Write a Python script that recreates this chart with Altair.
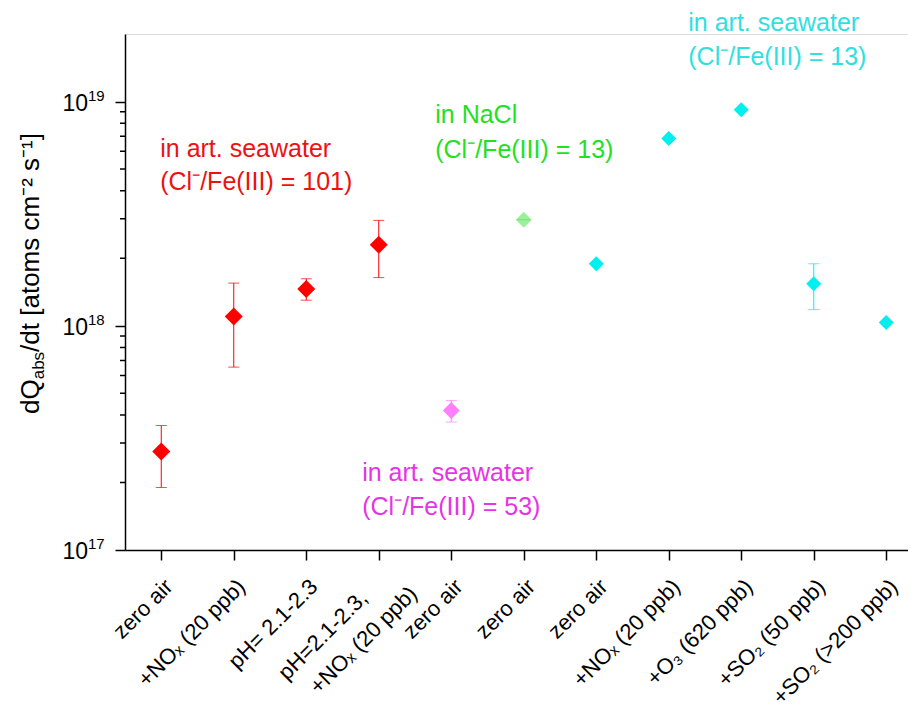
import altair as alt
import pandas as pd

FONT = "Liberation Sans"

# ---------------- data ----------------
x_pos = [1, 2, 3, 4, 5, 6, 7, 8, 9, 10, 11]
x_labels = ["zero air", "+NOₓ (20 ppb)", "pH= 2.1-2.3", "pH=2.1-2.3,|+NOₓ (20 ppb)",
            "zero air", "zero air", "zero air", "+NOₓ (20 ppb)", "+O₃ (620 ppb)",
            "+SO₂ (50 ppb)", "+SO₂ (>200 ppb)"]
values = [2.75e17, 1.10e18, 1.46e18, 2.30e18, 4.19e17, 2.97e18, 1.89e18, 6.84e18,
          9.2e18, 1.54e18, 1.035e18]
err_hi = [3.59e17, 1.55e18, 1.62e18, 2.95e18, 4.64e17, 3.15e18, None, None, None, 1.89e18, None]
err_lo = [1.90e17, 6.54e17, 1.30e18, 1.64e18, 3.72e17, 2.80e18, None, None, None, 1.18e18, None]
groups = ["red", "red", "red", "red", "pink", "green", "cyan", "cyan", "cyan", "cyan", "cyan"]

group_names = ["red", "pink", "green", "cyan"]
point_colors = ["#ff0000", "#ff80ff", "#9cf09c", "#00f0f0"]
bar_colors = ["#ff2020", "#ff70ff", "#5ee05e", "#10e0e0"]
point_sizes = [324, 225, 225, 324]

y_major = [1e17, 1e18, 1e19]
y_major_base = ["10", "10", "10"]
y_major_exp = ["17", "18", "19"]
y_minor = [m * 10 ** e for e in (17, 18) for m in range(2, 10)]

ann_text = ["in art. seawater", "(Cl⁻/Fe(III) = 101)",
            "in art. seawater", "(Cl⁻/Fe(III) = 53)",
            "in NaCl", "(Cl⁻/Fe(III) = 13)",
            "in art. seawater", "(Cl⁻/Fe(III) = 13)"]
ann_x = [0.986, 0.986, 3.772, 3.772, 4.779, 4.779, 8.269, 8.269]
ann_y = [5.68e18, 4.05e18, 2.03e17, 1.43e17, 8.05e18, 5.62e18, 2.053e19, 1.462e19]
ann_color = ["#ee1111", "#ee1111", "#e633e6", "#e633e6", "#22e022", "#22e022", "#30e0e0", "#30e0e0"]

W, H = 783, 516
x_domain = [0.5, 11.3]
y_domain = [1e17, 2e19]

# ---------------- frames ----------------
pts = pd.DataFrame({"x": x_pos, "v": values, "lo": err_lo, "hi": err_hi, "g": groups})
err = pts.dropna(subset=["lo", "hi"])
err_caps = err[err.g != "green"]
green = pts[pts.g == "green"]

xs = alt.Scale(domain=x_domain, nice=False, zero=False)
ys = alt.Scale(type="log", domain=y_domain, nice=False)
col_pt = alt.Color("g:N", scale=alt.Scale(domain=group_names, range=point_colors), legend=None)
col_bar = alt.Color("g:N", scale=alt.Scale(domain=group_names, range=bar_colors), legend=None)
size_pt = alt.Size("g:N", scale=alt.Scale(domain=group_names, range=point_sizes), legend=None)

x_axis = alt.Axis(values=x_pos, labels=False, tickSize=10, tickWidth=1.5,
                  tickColor="black", domainColor="black", domainWidth=1.5, grid=False, title=None)
y_axis = alt.Axis(values=y_major, labels=False, tickSize=10, tickWidth=1.5, tickColor="black",
                  domainColor="black", domainWidth=1.5, grid=False, title=None)

points = alt.Chart(pts).mark_point(shape="diamond", filled=True, opacity=1).encode(
    x=alt.X("x:Q", scale=xs, axis=x_axis), y=alt.Y("v:Q", scale=ys, axis=y_axis),
    color=col_pt, size=size_pt)
bars = alt.Chart(err).mark_rule(strokeWidth=1).encode(
    x=alt.X("x:Q", scale=xs), y=alt.Y("lo:Q", scale=ys), y2="hi:Q", color=col_bar)
cap_hi = alt.Chart(err_caps).mark_tick(orient="horizontal", size=11, thickness=1).encode(
    x=alt.X("x:Q", scale=xs), y=alt.Y("hi:Q", scale=ys), color=col_bar)
cap_lo = alt.Chart(err_caps).mark_tick(orient="horizontal", size=11, thickness=1).encode(
    x=alt.X("x:Q", scale=xs), y=alt.Y("lo:Q", scale=ys), color=col_bar)
green_mid = alt.Chart(green).mark_tick(orient="horizontal", size=13, thickness=1, color="#5ee05e").encode(
    x=alt.X("x:Q", scale=xs), y=alt.Y("v:Q", scale=ys))

# minor ticks on the y axis
minor = alt.Chart(pd.DataFrame({"m": y_minor})).mark_rule(color="black", strokeWidth=1.5).encode(
    y=alt.Y("m:Q", scale=ys), x=alt.value(-5), x2=alt.value(0))

# x tick labels (rotated text; offsets in the rotated frame)
single_rows, line1_rows, line2_rows = [], [], []
for xp, lab in zip(x_pos, x_labels):
    parts = lab.split("|")
    if len(parts) == 1:
        single_rows.append({"x": xp, "t": parts[0]})
    else:
        line1_rows.append({"x": xp, "t": parts[0]})
        line2_rows.append({"x": xp, "t": parts[1]})


def xlabel_layer(rows, dx, dy):
    return alt.Chart(pd.DataFrame(rows)).mark_text(
        angle=315, align="right", baseline="top", fontSize=22, font=FONT, color="black",
        dx=dx, dy=dy).encode(x=alt.X("x:Q", scale=xs), y=alt.value(H), text="t:N")


xl_single = xlabel_layer(single_rows, -18, 19)
xl_line1 = xlabel_layer(line1_rows, -42, 11)
xl_line2 = xlabel_layer(line2_rows, -4, 43)

# y tick labels 10^n
yl = pd.DataFrame({"t": y_major, "b": y_major_base, "e": y_major_exp})
ylab_base = alt.Chart(yl).mark_text(align="right", baseline="alphabetic", fontSize=23, font=FONT,
                                    dy=9, color="black").encode(
    y=alt.Y("t:Q", scale=ys), x=alt.value(-37), text="b:N")
ylab_exp = alt.Chart(yl).mark_text(align="left", baseline="alphabetic", fontSize=15, font=FONT,
                                   dy=-1, color="black").encode(
    y=alt.Y("t:Q", scale=ys), x=alt.value(-37), text="e:N")

# annotations
ann = pd.DataFrame({"x": ann_x, "y": ann_y, "t": ann_text, "c": ann_color})
ann_layer = alt.Chart(ann).mark_text(align="left", baseline="alphabetic", fontSize=25, font=FONT).encode(
    x=alt.X("x:Q", scale=xs), y=alt.Y("y:Q", scale=ys), text="t:N", color=alt.Color("c:N", scale=None))

# y-axis title built from pieces (rotated)
widths = {"d": .556, "Q": .778, "a": .556, "b": .556, "s": .5}
MAIN, SMALL = 26, 17
pieces = [("dQ", MAIN, 0), ("abs", SMALL, 5), ("/dt [atoms cm⁻² s⁻¹]", MAIN, 0)]
title_layers = []
ty = 380.0
tx = -86
one = pd.DataFrame({"a": [0]})
for txt, fs, shift in pieces:
    title_layers.append(alt.Chart(one).mark_text(text=txt, fontSize=fs, font=FONT, angle=270,
                                                 align="left", baseline="alphabetic", color="black")
                        .encode(x=alt.value(tx + shift), y=alt.value(ty)))
    ty -= sum(widths.get(ch, 0.5) for ch in txt) * fs

chart = alt.layer(points, bars, cap_hi, cap_lo, green_mid, minor, xl_single, xl_line1, xl_line2,
                  ylab_base, ylab_exp, ann_layer, *title_layers).properties(
    width=W, height=H, padding={"left": 117, "top": 26, "right": 0, "bottom": 158},
    autosize="none").configure_view(stroke=None).configure(background="white")

chart.save("out.html", embed_options={"renderer": "svg", "actions": False})
